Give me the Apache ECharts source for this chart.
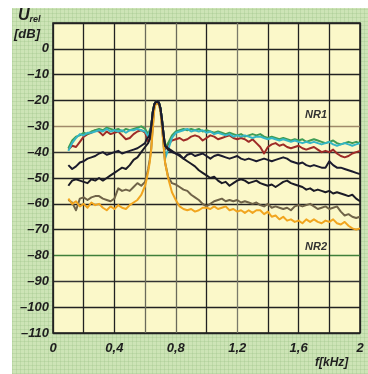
<!DOCTYPE html>
<html>
<head>
<meta charset="utf-8">
<script src="https://cdn.jsdelivr.net/npm/echarts@6/dist/echarts.min.js"></script>
<style>
  html, body { margin: 0; padding: 0; background: #ffffff; }
  #panel {
    position: absolute; left: 12px; top: 8px; width: 356px; height: 366px;
    background-color: #cde4b6;
    background-image:
      repeating-linear-gradient(0deg, rgba(150,190,130,0.28) 0px, rgba(150,190,130,0.28) 1px, transparent 1px, transparent 4px),
      repeating-linear-gradient(90deg, rgba(150,190,130,0.28) 0px, rgba(150,190,130,0.28) 1px, transparent 1px, transparent 4px);
  }
  #chart { position: absolute; left: 0; top: 0; width: 368px; height: 374px; }
</style>
</head>
<body>
<div id="panel"></div>
<div id="chart"></div>
<script>
// Frequenz in kHz (feiner um den Peak herum)
const freq = [
  0.100, 0.125, 0.150, 0.175, 0.200, 0.225, 0.250, 0.275, 0.300, 0.325,
  0.350, 0.375, 0.400, 0.425, 0.450, 0.475, 0.500, 0.525, 0.550, 0.575, 0.600,
  0.61, 0.62, 0.63, 0.64, 0.65, 0.66, 0.67, 0.68, 0.69, 0.70, 0.71, 0.72, 0.73,
  0.750, 0.775, 0.800, 0.825, 0.850, 0.875, 0.900, 0.925, 0.950, 0.975,
  1.000, 1.025, 1.050, 1.075, 1.100, 1.125, 1.150, 1.175, 1.200, 1.225,
  1.250, 1.275, 1.300, 1.325, 1.350, 1.375, 1.400, 1.425, 1.450, 1.475,
  1.500, 1.525, 1.550, 1.575, 1.600, 1.625, 1.650, 1.675, 1.700, 1.725,
  1.750, 1.775, 1.800, 1.825, 1.850, 1.875, 1.900, 1.925, 1.950, 1.975, 2.000
]

// Pegel in dB
const redLevel = [
  -39, -37.5, -38, -36, -34, -33, -32.5, -31.5, -32, -33.5,
  -32, -33, -32.5, -32, -33.5, -35, -34.5, -33, -32, -31.5, -32.5,
  -34, -36, -35, -30, -24.5, -21.5, -20.5, -20.3, -20.8, -23, -27.5, -33, -39,
  -37, -35.5, -35, -34.5, -35.5, -35, -34, -33.5, -34, -35.5,
  -34.5, -33.5, -34, -35, -34.5, -34, -33.5, -34.5, -35, -34.5,
  -35, -36, -35, -36.5, -38, -40.5, -38, -37, -36.5, -37.5,
  -37, -38, -38.5, -38, -37.5, -38.5, -39, -38.5, -38, -39,
  -40, -39.5, -40, -39, -40.5, -41.5, -42, -41.5, -40.5, -40, -39.5
]
const greenLevel = [
  -38.5, -35.5, -34, -33.5, -32.5, -33, -32, -31.5, -31, -31.5,
  -30.5, -31, -31.5, -31, -32, -31, -31.5, -31, -30.5, -30, -31,
  -32, -33, -33, -30, -24.5, -21.5, -20.5, -20.3, -20.8, -23, -27.5, -33, -38,
  -36.5, -33.5, -32, -31.5, -31, -31.5, -31, -31.5, -31, -32,
  -31.5, -32, -32.5, -32, -32.5, -33, -32.5, -33, -33.5, -33,
  -34, -33.5, -33, -33.5, -33, -34, -34.5, -34, -34.5, -35,
  -34.5, -35, -35.5, -35, -35.5, -35, -36, -35.5, -35, -35.5,
  -36, -36.5, -36, -35.5, -36.5, -37, -36.5, -36, -36.5, -36, -36.5
]
const cyanLevel = [
  -39.5, -36.5, -34.5, -33, -33.5, -32.5, -32.5, -32, -31.5, -32,
  -31, -32, -31.5, -32, -31.5, -32.5, -31.5, -31.5, -31, -31.5, -32,
  -33, -34, -34, -30, -24.5, -21.5, -20.5, -20.3, -20.8, -23, -27.5, -33, -42.5,
  -39, -34.5, -32.5, -32, -31.5, -31, -32, -31.5, -32, -31.5,
  -32.5, -32, -33, -32.5, -33, -33.5, -33, -34, -33.5, -34,
  -33.5, -34, -34.5, -34, -34, -34.5, -35, -34.5, -35, -35.5,
  -35, -35.5, -36, -35.5, -36, -36.5, -36, -36.5, -36, -36.5,
  -37, -36.5, -36, -37, -37.5, -37, -36.5, -37, -37.5, -37, -36.5
]
const brownLevel = [
  -58.5, -59.5, -62.5, -58, -57.5, -58.5, -57.5, -57, -57, -58,
  -58.5, -59, -58, -54, -55, -54.5, -55, -53.5, -52, -53, -51.5,
  -49, -46.5, -43, -38.5, -30, -23, -21, -20.8, -21.5, -24, -30, -37, -44,
  -49.5, -52, -52.5, -53.5, -54.5, -55, -56.5, -57.5, -58.5, -60,
  -61, -60, -59, -58.5, -58, -59, -58.5, -59, -58.5, -59.5,
  -59, -59.5, -60, -59.5, -60.5, -61, -60, -61.5, -61, -61.5,
  -62, -61.5, -62.5, -61, -60.5, -61, -60.5, -60, -61, -62,
  -61.5, -61, -62, -61.5, -61, -63, -64.5, -64, -65, -65.5, -65
]
const orangeLevel = [
  -58, -60, -59, -61, -60, -61.5, -59.5, -60.5, -60, -61.5,
  -62.5, -61, -62, -60.5, -61.5, -62, -60.5, -59.5, -58.5, -56.5, -53,
  -50.5, -47.5, -44, -39, -31, -23.5, -21, -20.8, -21.5, -24, -30, -37, -44,
  -50, -55.5, -58.5, -61, -62, -62.5, -62, -63, -62.5, -61.5,
  -61.5, -62, -61, -62, -61.5, -61, -62.5, -62, -63, -62.5,
  -63.5, -62.5, -63.5, -62.5, -62.5, -64, -63, -65, -64.5, -66,
  -65, -66.5, -66, -67, -66.5, -67.5, -66, -67, -66, -67,
  -67.5, -66.5, -67, -66, -67.5, -68, -67, -68.5, -69.5, -70, -69.5
]
const blackLowLevel = [
  -53, -51, -50.5, -51, -51.5, -52, -50.5, -51, -50, -51,
  -50, -49, -48, -47, -46, -46.5, -45, -43, -42, -40, -38,
  -37.5, -36.5, -35, -30, -24.5, -21.5, -20.5, -20.3, -20.8, -23, -27.5, -33, -37.5,
  -38.5, -39.5, -40.5, -41, -42.5, -43.5, -44.5, -45.5, -47, -48,
  -49, -50, -49.5, -51, -52, -51.5, -53, -52, -51, -50.5,
  -51, -52, -51.5, -51, -52, -52.5, -53, -52.5, -53.5, -52.5,
  -51.5, -51, -52, -52.5, -53, -53.5, -54.5, -54, -55, -54.5,
  -55, -55.5, -55, -56, -55.5, -56, -56.5, -57, -56.5, -58, -59
]
const blackHighLevel = [
  -45, -46.5, -45.5, -44, -43.5, -42.5, -42, -41.5, -40.5, -40,
  -41, -40.5, -40, -39.5, -40.5, -40, -39.5, -39, -38.5, -37.5, -36.5,
  -35, -34.5, -33.5, -30, -24.5, -21.5, -20.5, -20.3, -20.8, -23, -27.5, -33, -37.5,
  -39, -40, -40.5, -41.5, -42.5, -41, -40.5, -41.5, -41, -40.5,
  -41.5, -42.5, -41.5, -41, -41.5, -42, -42.5, -42, -41.5, -42.5,
  -43, -42.5, -43, -43.5, -43, -42.5, -43, -43.5, -43, -42.5,
  -42, -42.5, -43.5, -44, -44.5, -44, -45, -45.5, -45, -45.5,
  -46, -46, -43.5, -45, -46, -46, -46.5, -47, -47.5, -48, -48.5
]

const labelFont = {
    color: '#1e1e1e',
    fontFamily: 'Liberation Sans',
    fontStyle: 'italic',
    fontWeight: 'bold',
    fontSize: 13
}

const chart = echarts.init(document.getElementById('chart'))

const makeLine = (name, values, color, width) => ({
    name: name,
    type: 'line',
    showSymbol: false,
    silent: true,
    data: freq.map((f, i) => [f, values[i]]),
    lineStyle: { color: color, width: width || 2, join: 'round' }
})

const option = {
    backgroundColor: 'transparent',
    animation: false,
    grid: {
        left: 53,
        right: 8,
        top: 23,
        bottom: 41,
        show: true,
        backgroundColor: '#fbf8c9',
        borderColor: '#1a1a1a',
        borderWidth: 1.5
    },
    xAxis: {
        type: 'value',
        min: 0,
        max: 2,
        interval: 0.2,
        axisLine: { show: false },
        axisTick: { show: false },
        axisLabel: Object.assign({}, labelFont, {
            margin: 9,
            formatter: v => {
                const k = v / 0.4
                if (Math.abs(k - Math.round(k)) > 1e-6) return ''
                return String(Math.round(v * 10) / 10).replace('.', ',')
            }
        }),
        splitLine: {
            lineStyle: {
                color: ['#222', '#222', '#222', '#6a6a5a', '#6a6a5a', '#222',
                        '#7a7a6a', '#222', '#222', '#222', '#222'],
                width: 1.3
            }
        }
    },
    yAxis: {
        type: 'value',
        min: -110,
        max: 10,
        interval: 10,
        axisLine: { show: false },
        axisTick: { show: false },
        axisLabel: Object.assign({}, labelFont, {
            margin: 4,
            formatter: v => v === 10 ? '' : String(v).replace('-', '–')
        }),
        splitLine: {
            lineStyle: {
                color: ['#222', '#222', '#333', '#3f7f3a', '#222', '#222', '#222',
                        '#333', '#a08a6a', '#222', '#222', '#222', '#222'],
                width: 1.3
            }
        }
    },
    series: [
        makeLine('red', redLevel, '#9e2b27'),
        makeLine('green', greenLevel, '#3f9c55'),
        makeLine('cyan', cyanLevel, '#35b6c6'),
        makeLine('brown', brownLevel, '#6f6348'),
        makeLine('orange', orangeLevel, '#f1a51f'),
        makeLine('black low', blackLowLevel, '#1b1b26'),
        makeLine('black high', blackHighLevel, '#1b1b2e')
    ],
    graphic: [
        {
            type: 'text', left: 18, top: 8,
            style: {
                text: '{u|U}{s|rel}',
                rich: {
                    u: { fontFamily: 'Liberation Sans', fontStyle: 'italic', fontWeight: 'bold', fontSize: 16, fill: '#1e1e1e' },
                    s: { fontFamily: 'Liberation Sans', fontStyle: 'italic', fontWeight: 'bold', fontSize: 9, fill: '#1e1e1e', padding: [8, 0, 0, 0] }
                }
            }
        },
        {
            type: 'text', left: 14, top: 28,
            style: { text: '[dB]', fill: '#1e1e1e', font: 'italic bold 13px "Liberation Sans"' }
        },
        {
            type: 'text', left: 305, top: 109,
            style: { text: 'NR1', fill: '#333', font: 'italic bold 11px "Liberation Sans"' }
        },
        {
            type: 'text', left: 305, top: 241,
            style: { text: 'NR2', fill: '#333', font: 'italic bold 11px "Liberation Sans"' }
        },
        {
            type: 'text', left: 315, top: 357,
            style: { text: 'f[kHz]', fill: '#1e1e1e', font: 'italic bold 12px "Liberation Sans"' }
        }
    ]
}

chart.setOption(option)
</script>
</body>
</html>
